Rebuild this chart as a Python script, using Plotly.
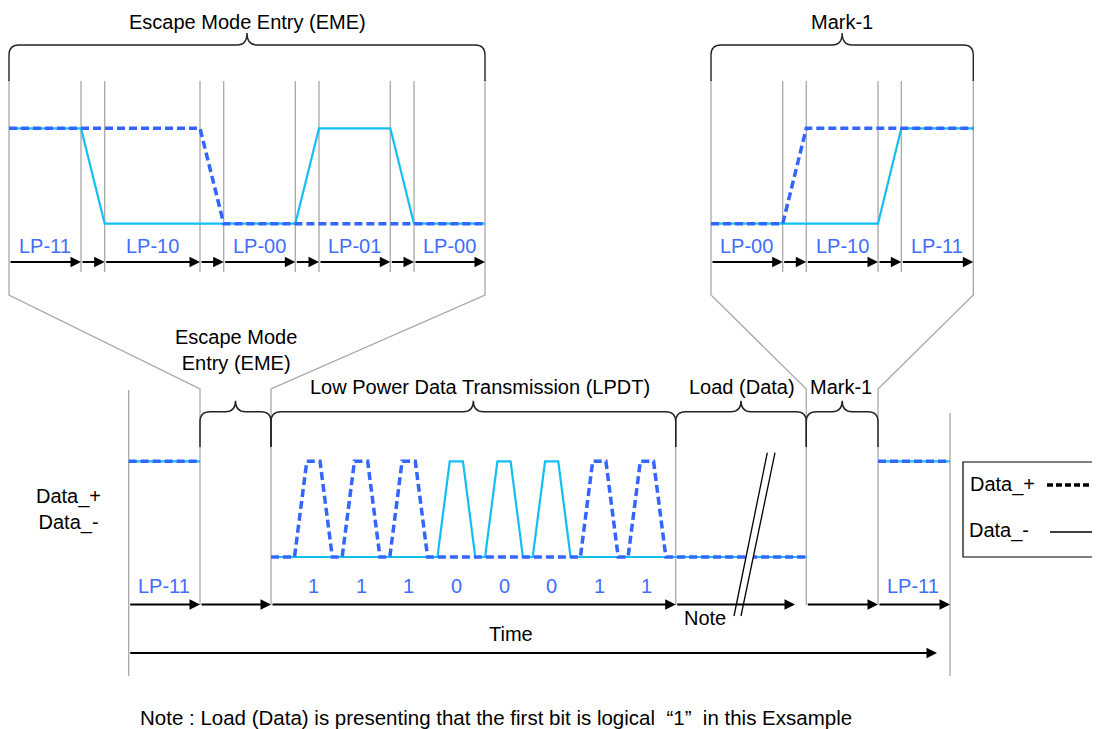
import plotly.graph_objects as go

# ---- data: line states, levels and bits ----
eme_states = ["LP-11", "LP-10", "LP-00", "LP-01", "LP-00"]
eme_dp = [1, 1, 0, 0, 0]
eme_dm = [1, 0, 0, 1, 0]

mark_states = ["LP-00", "LP-10", "LP-11"]
mark_dp = [0, 1, 1]
mark_dm = [0, 0, 1]

lpdt_bits = [1, 1, 1, 0, 0, 0, 1]
load_bits = [1]

# ---- layout geometry (page pixel units) ----
eme_edges = [9, 81, 104.7, 200, 223.7, 295.3, 319, 390.3, 414, 485]
mark_edges = [711, 782.7, 806.3, 878, 901.3, 973.3]
up_hi, up_lo = 128.3, 223.7
lo_hi, lo_lo = 461.3, 557
t_lp11a, t_eme, t_lpdt, t_load, t_mark, t_lp11b = 128.7, 200, 271, 675.7, 806.3, 878
t_end = 950
pulse0, period, rise, top, fall = 294.5, 47.65, 12.3, 13.2, 12.3

BLUE = "#3366FF"
CYAN = "#12BEF2"
LBL = "#3F6EFF"
GRAY = "#A8A8A8"
FONT = "Liberation Sans, Arial, sans-serif"
PAGE_PAD = 8  # default body margin of the html page


def wave(edges, levels, hi, lo):
    xs, ys = [], []
    for i, lv in enumerate(levels):
        y = hi if lv else lo
        xs += [edges[2 * i], edges[2 * i + 1]]
        ys += [y, y]
    return xs, ys


def lower_wave(want):
    # want=1 -> Data_+ pulses on bit 1, want=0 -> Data_- pulses on bit 0
    xs = [t_lp11a, t_eme, None, t_lpdt]
    ys = [lo_hi, lo_hi, None, lo_lo]
    for k, b in enumerate(lpdt_bits + load_bits):
        if b == want:
            s = pulse0 + k * period
            xs += [s, s + rise, s + rise + top, s + rise + top + fall]
            ys += [lo_lo, lo_hi, lo_hi, lo_lo]
    xs += [t_mark, None, t_lp11b, t_end]
    ys += [lo_lo, None, lo_hi, lo_hi]
    return xs, ys


fig = go.Figure()

# gray guide lines
gx, gy = [], []
for x in eme_edges[1:-1] + mark_edges[1:-1]:
    gx += [x, x, None]; gy += [81, 272, None]
for xa, xb in [(9, t_eme), (485, t_lpdt), (711, t_mark), (973.3, t_lp11b)]:
    gx += [xa, xa, xb, xb, None]; gy += [80, 295, 389, 605, None]
gx += [t_lp11a, t_lp11a, None, t_end, t_end, None, t_load, t_load, None]
gy += [390, 676, None, 413, 676, None, 447, 605, None]
fig.add_trace(go.Scatter(x=gx, y=gy, mode="lines", line=dict(color=GRAY, width=1.3),
                         hoverinfo="skip", showlegend=False))

# Data_- (solid) then Data_+ (dashed) on top
for edges, dp, dm in [(eme_edges, eme_dp, eme_dm), (mark_edges, mark_dp, mark_dm)]:
    x, y = wave(edges, dm, up_hi, up_lo)
    fig.add_trace(go.Scatter(x=x, y=y, mode="lines", line=dict(color=CYAN, width=2.2),
                             hoverinfo="skip", showlegend=False))
    x, y = wave(edges, dp, up_hi, up_lo)
    fig.add_trace(go.Scatter(x=x, y=y, mode="lines", line=dict(color=BLUE, width=3.5, dash="8px,4px"),
                             hoverinfo="skip", showlegend=False))
x, y = lower_wave(0)
fig.add_trace(go.Scatter(x=x, y=y, mode="lines", line=dict(color=CYAN, width=2.2),
                         hoverinfo="skip", showlegend=False))
x, y = lower_wave(1)
fig.add_trace(go.Scatter(x=x, y=y, mode="lines", line=dict(color=BLUE, width=3.5, dash="8px,4px"),
                         hoverinfo="skip", showlegend=False))

# legend box samples
fig.add_trace(go.Scatter(x=[1047, 1100], y=[485, 485], mode="lines",
                         line=dict(color="black", width=3.5, dash="6px,3px"), hoverinfo="skip", showlegend=False))
fig.add_trace(go.Scatter(x=[1050, 1098], y=[532, 532], mode="lines",
                         line=dict(color="black", width=1.5), hoverinfo="skip", showlegend=False))


def brace(x0, x1, ytop, ypeak, yend, r=10):
    xm = (x0 + x1) / 2
    return (f"M{x0},{yend} L{x0},{ytop + r} Q{x0},{ytop} {x0 + r},{ytop} L{xm - r},{ytop} "
            f"Q{xm},{ytop} {xm},{ypeak} Q{xm},{ytop} {xm + r},{ytop} L{x1 - r},{ytop} "
            f"Q{x1},{ytop} {x1},{ytop + r} L{x1},{yend}")


shapes = []
for x0, x1 in [(eme_edges[0], eme_edges[-1]), (mark_edges[0], mark_edges[-1])]:
    shapes.append(dict(type="path", path=brace(x0, x1, 45, 33, 81), line=dict(color="#222", width=1.4)))
for x0, x1 in [(t_eme, t_lpdt), (t_lpdt, t_load), (t_load, t_mark), (t_mark, t_lp11b)]:
    shapes.append(dict(type="path", path=brace(x0, x1, 411.7, 400.7, 447), line=dict(color="#222", width=1.4)))

# break mark
shapes.append(dict(type="path", path="M767.3,452.7 L775,452.7 L741,616 L734,616 Z",
                   fillcolor="white", line=dict(width=0), layer="above"))
for xa, xb in [(767.3, 734), (775, 741)]:
    shapes.append(dict(type="line", x0=xa, y0=452.7, x1=xb, y1=616, line=dict(color="black", width=1.3),
                       layer="above"))
# legend box
shapes.append(dict(type="rect", x0=963, y0=462, x1=1104, y1=557, line=dict(color="black", width=1.2)))

ann = []


def text(x, y, s, size=20, color="black"):
    ann.append(dict(x=x, y=y, text=s, showarrow=False, xanchor="center", yanchor="middle",
                    font=dict(family=FONT, size=size, color=color)))


def arrow(x0, x1, y):
    ann.append(dict(x=x1, y=y, ax=x0, ay=y, axref="x", ayref="y", text="", showarrow=True,
                    arrowhead=2, arrowsize=1.05, arrowwidth=2, arrowcolor="black", standoff=0))


for edges, states in [(eme_edges, eme_states), (mark_edges, mark_states)]:
    for i, s in enumerate(states):
        text((edges[2 * i] + edges[2 * i + 1]) / 2, 246, s, color=LBL)
    for a, b in zip(edges[:-1], edges[1:]):
        arrow(a, b, 262)

text((eme_edges[0] + eme_edges[-1]) / 2, 22, "Escape Mode Entry (EME)")
text((mark_edges[0] + mark_edges[-1]) / 2, 22, "Mark-1")
text((t_eme + t_lpdt) / 2, 350, "Escape Mode<br>Entry (EME)")
text(480, 387, "Low Power Data Transmission (LPDT)")
text(741.5, 387, "Load (Data)")
text(841, 387, "Mark-1")

for k, b in enumerate(lpdt_bits + load_bits):
    text(pulse0 + k * period + (rise + top + fall) / 2, 586, str(b), color=LBL)
text((t_lp11a + t_eme) / 2, 586, "LP-11", color=LBL)
text((t_lp11b + t_end) / 2 - 1, 586, "LP-11", color=LBL)

for a, b in [(t_lp11a, t_eme), (t_eme, t_lpdt), (t_lpdt, t_load), (t_load, 795), (t_mark, t_lp11b), (t_lp11b, t_end)]:
    arrow(a, b, 604.5)
arrow(t_lp11a, 937, 653)

text(510.7, 634, "Time")
text(705, 618, "Note")
text(68, 509, "Data_+<br>Data_-")
text(1002, 484, "Data_+")
text(999, 530, "Data_-")
text(496, 717, "Note : Load (Data) is presenting that the first bit is logical \u00a0\u201c1\u201d\u00a0 in this Exsample",
     size=20.5)

# the page body keeps an 8px margin, so the axes are offset to keep page pixels == data units
fig.update_layout(width=1100 - PAGE_PAD, height=729 - PAGE_PAD, margin=dict(l=0, r=0, t=0, b=0),
                  paper_bgcolor="white", plot_bgcolor="white",
                  shapes=shapes, annotations=ann, showlegend=False)
fig.update_xaxes(range=[PAGE_PAD, 1100], visible=False, fixedrange=True)
fig.update_yaxes(range=[729, PAGE_PAD], visible=False, fixedrange=True)

fig.write_html("out.html")
